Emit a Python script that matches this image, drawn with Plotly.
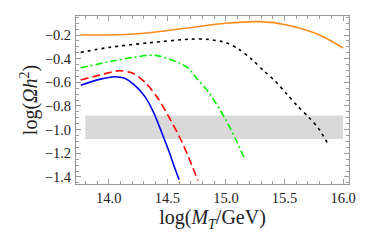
import plotly.graph_objects as go

# Data
orange_x = [13.76, 14.0, 14.3, 14.67, 15.0, 15.29, 15.52, 15.8, 16.0]
orange_y = [-0.197, -0.2, -0.185, -0.14, -0.10, -0.087, -0.115, -0.2, -0.31]

black_x = [13.76, 14.0, 14.35, 14.7, 14.85, 15.0, 15.11, 15.22, 15.32, 15.42, 15.52, 15.61, 15.71, 15.79, 15.87]
black_y = [-0.347, -0.305, -0.265, -0.235, -0.237, -0.265, -0.32, -0.405, -0.5, -0.59, -0.70, -0.80, -0.90, -0.99, -1.12]

green_x = [13.76, 14.03, 14.2, 14.4, 14.61, 14.68, 14.75, 14.85, 14.95, 15.0, 15.08, 15.16]
green_y = [-0.477, -0.42, -0.39, -0.372, -0.44, -0.482, -0.567, -0.68, -0.836, -0.92, -1.075, -1.25]

red_x = [13.76, 13.92, 14.09, 14.21, 14.32, 14.42, 14.52, 14.61, 14.68, 14.76]
red_y = [-0.58, -0.539, -0.502, -0.525, -0.61, -0.737, -0.906, -1.075, -1.231, -1.43]

blue_x = [13.76, 13.92, 14.05, 14.14, 14.22, 14.31, 14.38, 14.45, 14.51, 14.56, 14.6]
blue_y = [-0.624, -0.575, -0.553, -0.567, -0.624, -0.723, -0.85, -1.02, -1.175, -1.316, -1.423]

band_x = [13.8, 16.0]
band_y = [-1.08, -0.88]

x_ticks = [14.0, 14.5, 15.0, 15.5, 16.0]
y_ticks = [-0.2, -0.4, -0.6, -0.8, -1.0, -1.2, -1.4]

fig = go.Figure()

fig.add_shape(type="rect", x0=band_x[0], x1=band_x[1], y0=band_y[0], y1=band_y[1],
              fillcolor="#d9d9d9", line_width=0, layer="below")

def add(x, y, color, dash):
    fig.add_trace(go.Scatter(x=x, y=y, mode="lines", line=dict(color=color, width=1.6, dash=dash, shape="spline", smoothing=0.8),
                             showlegend=False, hoverinfo="skip"))

add(orange_x, orange_y, "#FF8C1A", "solid")
add(black_x, black_y, "black", "3px,4px")
add(green_x, green_y, "#00F000", "7px,3px,2px,3px")
add(red_x, red_y, "#FF0000", "8px,4px")
add(blue_x, blue_y, "#0000FF", "solid")

axis_common = dict(showgrid=False, zeroline=False, showline=True, linecolor="#999999", linewidth=1,
                   mirror="allticks", ticks="inside", tickcolor="#999999", ticklen=5, tickwidth=1,
                   automargin=False, ticklabelstandoff=1,
                   tickfont=dict(family="Liberation Serif", size=14.5, color="#222222"))

fig.update_xaxes(range=[13.72, 16.05], tickvals=x_ticks, tickformat=".1f",
                 minor=dict(dtick=0.1, ticks="inside", ticklen=3, tickcolor="#999999"),
                 title=dict(text="log(<i>M<sub>T</sub></i>/GeV)", font=dict(family="Liberation Serif", size=20, color="#222222"), standoff=3),
                 **axis_common)
fig.update_yaxes(range=[-1.46, -0.039], tickvals=y_ticks, tickformat=".1f",
                 minor=dict(dtick=0.05, ticks="inside", ticklen=3, tickcolor="#999999"),
                 title=dict(text="log(<i>Ωh</i><sup>2</sup>)", font=dict(family="Liberation Serif", size=20, color="#222222"), standoff=1),
                 **axis_common)

fig.update_layout(width=366, height=241, margin=dict(l=68, r=25, t=8, b=65, autoexpand=False),
                  plot_bgcolor="white", paper_bgcolor="white")

fig.write_html("out.html")
